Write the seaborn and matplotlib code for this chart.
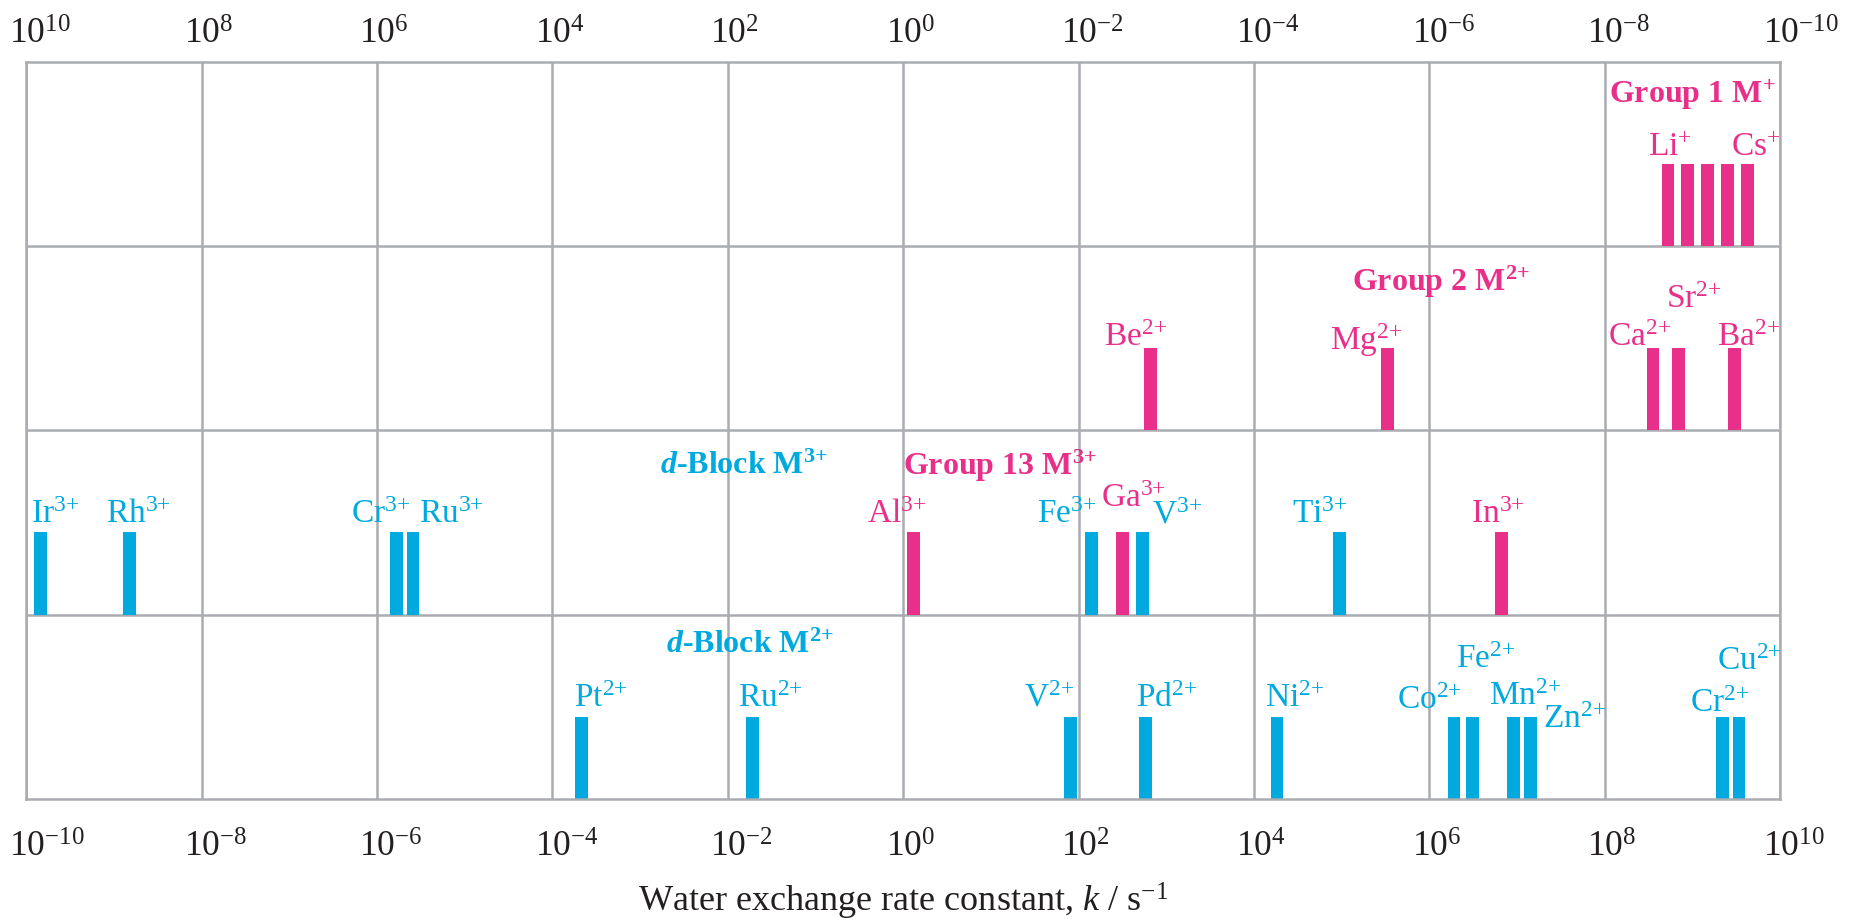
"""Water exchange rate constants of aqua metal ions, drawn as a strip chart."""

import matplotlib

matplotlib.use("Agg")
import matplotlib.pyplot as plt
import matplotlib.transforms as mtransforms
import numpy as np
import seaborn as sns

# log10(k / s^-1), one list per row/series
GROUP1_IONS = ["Li", "Na", "K", "Rb", "Cs"]
GROUP1_LOGK = [8.72, 8.94, 9.17, 9.40, 9.63]
GROUP2_IONS = ["Be", "Mg", "Ca", "Sr", "Ba"]
GROUP2_LOGK = [2.82, 5.52, 8.55, 8.84, 9.48]
GROUP13_IONS = ["Al", "Ga", "In"]
GROUP13_LOGK = [0.12, 2.50, 6.82]
DBLOCK3_IONS = ["Ir", "Rh", "Cr", "Ru", "Fe", "V", "Ti"]
DBLOCK3_LOGK = [-9.84, -8.82, -5.78, -5.59, 2.15, 2.73, 4.97]
DBLOCK2_IONS = ["Pt", "Ru", "V", "Pd", "Ni", "Co", "Fe", "Mn", "Zn", "Cr", "Cu"]
DBLOCK2_LOGK = [-3.67, -1.72, 1.91, 2.76, 4.26, 6.28, 6.49, 6.96, 7.15, 9.34, 9.53]

DECADES = list(range(-10, 11, 2))
X_LABEL = r"Water exchange rate constant, $k$ / s$^{-1}$"

PINK = "#E8308A"
CYAN = "#00A9DE"
GRID = "#A9ACB1"
INK = "#231F20"

# ions, logk, charge, row (0 = bottom), colour
SERIES = [
    (GROUP1_IONS, GROUP1_LOGK, "+", 3, PINK),
    (GROUP2_IONS, GROUP2_LOGK, "2{+}", 2, PINK),
    (GROUP13_IONS, GROUP13_LOGK, "3{+}", 1, PINK),
    (DBLOCK3_IONS, DBLOCK3_LOGK, "3{+}", 1, CYAN),
    (DBLOCK2_IONS, DBLOCK2_LOGK, "2{+}", 0, CYAN),
]

# label anchors: (left edge in log k, baseline height inside the row)
LABEL_POS = {
    ("Li", 3): (8.49, 0.49), ("Cs", 3): (9.44, 0.49),
    ("Be", 2): (2.29, 0.46), ("Mg", 2): (4.87, 0.435), ("Ca", 2): (8.03, 0.46),
    ("Sr", 2): (8.70, 0.666), ("Ba", 2): (9.28, 0.46),
    ("Al", 1): (-0.41, 0.497), ("Ga", 1): (2.25, 0.584), ("In", 1): (6.47, 0.497),
    ("Ir", 1): (-9.95, 0.497), ("Rh", 1): (-9.09, 0.497), ("Cr", 1): (-6.30, 0.497),
    ("Ru", 1): (-5.52, 0.497), ("Fe", 1): (1.53, 0.497), ("V", 1): (2.84, 0.497),
    ("Ti", 1): (4.43, 0.497),
    ("Pt", 0): (-3.76, 0.499), ("Ru", 0): (-1.89, 0.499), ("V", 0): (1.38, 0.499),
    ("Pd", 0): (2.65, 0.499), ("Ni", 0): (4.13, 0.499), ("Co", 0): (5.63, 0.488),
    ("Fe", 0): (6.30, 0.709), ("Mn", 0): (6.68, 0.51), ("Zn", 0): (7.30, 0.383),
    ("Cr", 0): (8.97, 0.473), ("Cu", 0): (9.28, 0.70),
}

# group titles: text, colour, row, left x, baseline height inside the row
GROUP_TITLES = [
    (r"Group 1 M$^{\mathbf{+}}$", PINK, 3, 8.05, 0.777),
    (r"Group 2 M$^{\mathbf{2{+}}}$", PINK, 2, 5.12, 0.756),
    (r"Group 13 M$^{\mathbf{3{+}}}$", PINK, 1, 0.0, 0.76),
    (r"$\mathbfit{d}$-Block M$^{\mathbf{3{+}}}$", CYAN, 1, -2.77, 0.764),
    (r"$\mathbfit{d}$-Block M$^{\mathbf{2{+}}}$", CYAN, 0, -2.71, 0.791),
]

BAR_W = 0.145
BAR_H = 0.446
TICK_SIZE = 25.5

sns.set_theme(style="white")
plt.rcParams["font.family"] = ["Liberation Serif", "DejaVu Serif"]
plt.rcParams["mathtext.fontset"] = "custom"
plt.rcParams["mathtext.rm"] = "Liberation Serif"
plt.rcParams["mathtext.it"] = "Liberation Serif:italic"
plt.rcParams["mathtext.bf"] = "Liberation Serif:bold"
if "mathtext.bfit" in plt.rcParams:
    plt.rcParams["mathtext.bfit"] = "Liberation Serif:italic:bold"

fig = plt.figure(figsize=(18.61, 9.22), dpi=100)
ax = fig.add_axes([0.01413, 0.1336, 0.9425, 0.7993])

for ions, logk, charge, row, colour in SERIES:
    # seaborn scales bar width by the smallest gap between x values
    native = np.diff(np.unique(logk)).min() if len(logk) > 1 else 1.0
    sns.barplot(x=logk, y=[BAR_H] * len(logk), bottom=row, orient="x", native_scale=True,
                width=BAR_W / native, color=colour, saturation=1, errorbar=None,
                linewidth=0, ax=ax)
    for ion in ions:
        if (ion, row) in LABEL_POS:
            lx, ly = LABEL_POS[(ion, row)]
            ax.text(lx, row + ly, f"{ion}$^{{{charge}}}$", color=colour, fontsize=24,
                    ha="left", va="baseline")

for text, colour, row, lx, ly in GROUP_TITLES:
    ax.text(lx, row + ly, text, color=colour, fontsize=23, fontweight="bold",
            ha="left", va="baseline")

ax.set_xlim(-10, 10)
ax.set_ylim(0, 4)
ax.set_xticks(DECADES, [f"$10^{{{n}}}$" for n in DECADES])
ax.set_yticks([1, 2, 3], [])
ax.set_xlabel("")
ax.set_ylabel("")
ax.set_axisbelow(True)
ax.grid(True, color=GRID, linewidth=1.8)
ax.tick_params(axis="x", length=0, pad=24, labelsize=TICK_SIZE, labelcolor=INK)
ax.tick_params(axis="y", length=0)
for spine in ax.spines.values():
    spine.set_color(GRID)
    spine.set_linewidth(1.8)

top = ax.twiny()
top.set_xlim(ax.get_xlim())
top.set_xticks(DECADES, [f"$10^{{{-n}}}$" for n in DECADES])
top.tick_params(axis="x", length=0, pad=7, labelsize=TICK_SIZE, labelcolor=INK)
top.grid(False)
for spine in top.spines.values():
    spine.set_visible(False)

# centre the "10" (not the whole power) on each gridline
shift = mtransforms.ScaledTranslation(-0.5 * TICK_SIZE / 72, 0, fig.dpi_scale_trans)
for label in ax.get_xticklabels() + top.get_xticklabels():
    label.set_horizontalalignment("left")
    label.set_transform(label.get_transform() + shift)

fig.text(0.4853, 0.0115, X_LABEL, ha="center", va="baseline", fontsize=26, color=INK)

fig.savefig("out.png", dpi=100)
plt.close(fig)
